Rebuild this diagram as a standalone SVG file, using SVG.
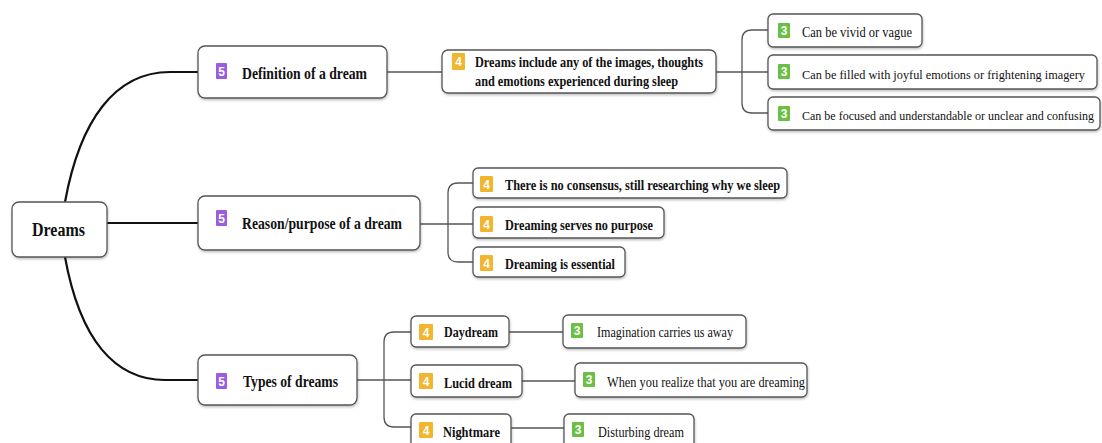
<svg xmlns="http://www.w3.org/2000/svg" width="1102" height="443" viewBox="0 0 1102 443">
<defs>
<filter id="sh" x="-5%" y="-10%" width="110%" height="130%">
<feDropShadow dx="0.5" dy="1.5" stdDeviation="1" flood-color="#000" flood-opacity="0.25"/>
</filter>
<style>
.box{fill:#fff;stroke:#555;stroke-width:1.3;filter:url(#sh)}
.main{fill:none;stroke:#111;stroke-width:2.2}
.con{fill:none;stroke:#555;stroke-width:1.3}
.b5{fill:#9a5ce0}
.b4{fill:#f1b52e}
.b3{fill:#6cbf45}
.bn{font-family:"Liberation Sans",Arial,sans-serif;font-weight:bold;font-size:12px;fill:#fff;text-anchor:middle}
.t{font-family:"Liberation Serif","Times New Roman",serif;fill:#111}
.tb{font-family:"Liberation Serif","Times New Roman",serif;font-weight:bold;fill:#111}
</style>
</defs>
<rect width="1102" height="443" fill="#fff"/>
<g id="connectors">
<path class="main" d="M65,202 C80,120 115,72 170,72 L198,72"/>
<path class="main" d="M107,223 L198,223"/>
<path class="main" d="M65,257 C80,340 115,380 165,380 L198,380"/>
<path class="con" d="M387,72 H442"/>
<path class="con" d="M716,72 H768"/>
<path class="con" d="M768,30 H752 Q742,30 742,40 V103 Q742,113 752,113 H768"/>
<path class="con" d="M420,224 H473"/>
<path class="con" d="M473,183 H458 Q448,183 448,193 V252 Q448,262 458,262 H473"/>
<path class="con" d="M357,380 H411"/>
<path class="con" d="M411,332 H394 Q384,332 384,342 V417 Q384,427 394,427 H411"/>
<path class="con" d="M509,332 H563"/>
<path class="con" d="M522,381 H575"/>
<path class="con" d="M511,428 H564"/>
</g>
<g id="n-dreams">
<rect class="box" x="12" y="202" width="95" height="55" rx="7"/>
<text class="tb" x="32" y="236" font-size="18" textLength="53" lengthAdjust="spacingAndGlyphs">Dreams</text>
</g>
<g id="n-definition">
<rect class="box" x="198" y="46" width="189" height="52" rx="7"/>
<rect class="b5" x="216" y="63" width="11" height="16" rx="1"/>
<text class="bn" x="221.5" y="75.5">5</text>
<text class="tb" x="242" y="79" font-size="16" textLength="125" lengthAdjust="spacingAndGlyphs">Definition of a dream</text>
</g>
<g id="n-reason">
<rect class="box" x="198" y="196" width="222" height="54" rx="7"/>
<rect class="b5" x="216" y="210" width="11" height="16" rx="1"/>
<text class="bn" x="221.5" y="222.5">5</text>
<text class="tb" x="242" y="229" font-size="16" textLength="160" lengthAdjust="spacingAndGlyphs">Reason/purpose of a dream</text>
</g>
<g id="n-types">
<rect class="box" x="198" y="355" width="159" height="50" rx="7"/>
<rect class="b5" x="216" y="373" width="11" height="16" rx="1"/>
<text class="bn" x="221.5" y="385.5">5</text>
<text class="tb" x="243" y="387" font-size="16" textLength="95" lengthAdjust="spacingAndGlyphs">Types of dreams</text>
</g>
<g id="n-include">
<rect class="box" x="442" y="50" width="274" height="43" rx="6"/>
<rect class="b4" x="452" y="53" width="13" height="17" rx="1"/>
<text class="bn" x="458.5" y="66">4</text>
<text class="tb" x="475" y="67" font-size="14" textLength="228" lengthAdjust="spacingAndGlyphs">Dreams include any of the images, thoughts</text>
<text class="tb" x="475" y="86" font-size="14" textLength="203" lengthAdjust="spacingAndGlyphs">and emotions experienced during sleep</text>
</g>
<g id="n-vivid">
<rect class="box" x="768" y="14" width="154" height="33" rx="5"/>
<rect class="b3" x="778" y="23" width="12" height="15" rx="1"/>
<text class="bn" x="784" y="35">3</text>
<text class="t" x="802" y="37" font-size="14" textLength="110" lengthAdjust="spacingAndGlyphs">Can be vivid or vague</text>
</g>
<g id="n-joyful">
<rect class="box" x="768" y="55" width="329" height="34" rx="5"/>
<rect class="b3" x="778" y="64" width="12" height="15" rx="1"/>
<text class="bn" x="784" y="76">3</text>
<text class="t" x="802" y="79" font-size="13" textLength="283" lengthAdjust="spacingAndGlyphs">Can be filled with joyful emotions or frightening imagery</text>
</g>
<g id="n-focused">
<rect class="box" x="768" y="97" width="332" height="33" rx="5"/>
<rect class="b3" x="778" y="106" width="12" height="15" rx="1"/>
<text class="bn" x="784" y="118">3</text>
<text class="t" x="802" y="120" font-size="12" textLength="292" lengthAdjust="spacingAndGlyphs">Can be focused and understandable or unclear and confusing</text>
</g>
<g id="n-consensus">
<rect class="box" x="473" y="168" width="314" height="30" rx="5"/>
<rect class="b4" x="480" y="176" width="13" height="16" rx="1"/>
<text class="bn" x="486.5" y="188.5">4</text>
<text class="tb" x="505" y="190" font-size="14" textLength="275" lengthAdjust="spacingAndGlyphs">There is no consensus, still researching why we sleep</text>
</g>
<g id="n-nopurpose">
<rect class="box" x="473" y="207" width="191" height="31" rx="5"/>
<rect class="b4" x="480" y="216" width="13" height="16" rx="1"/>
<text class="bn" x="486.5" y="228.5">4</text>
<text class="tb" x="505" y="230" font-size="14" textLength="148" lengthAdjust="spacingAndGlyphs">Dreaming serves no purpose</text>
</g>
<g id="n-essential">
<rect class="box" x="473" y="247" width="152" height="30" rx="5"/>
<rect class="b4" x="480" y="255" width="13" height="16" rx="1"/>
<text class="bn" x="486.5" y="267.5">4</text>
<text class="tb" x="505" y="269" font-size="14" textLength="110" lengthAdjust="spacingAndGlyphs">Dreaming is essential</text>
</g>
<g id="n-daydream">
<rect class="box" x="411" y="316" width="98" height="31" rx="5"/>
<rect class="b4" x="419" y="324" width="14" height="16" rx="1"/>
<text class="bn" x="426" y="336.5">4</text>
<text class="tb" x="444" y="337" font-size="14" textLength="54" lengthAdjust="spacingAndGlyphs">Daydream</text>
</g>
<g id="n-lucid">
<rect class="box" x="411" y="365" width="111" height="32" rx="5"/>
<rect class="b4" x="419" y="373" width="14" height="16" rx="1"/>
<text class="bn" x="426" y="385.5">4</text>
<text class="tb" x="444" y="388" font-size="14" textLength="68" lengthAdjust="spacingAndGlyphs">Lucid dream</text>
</g>
<g id="n-nightmare">
<rect class="box" x="411" y="414" width="100" height="34" rx="5"/>
<rect class="b4" x="419" y="422" width="14" height="16" rx="1"/>
<text class="bn" x="426" y="434.5">4</text>
<text class="tb" x="443" y="437" font-size="14" textLength="57" lengthAdjust="spacingAndGlyphs">Nightmare</text>
</g>
<g id="n-imagination">
<rect class="box" x="563" y="315" width="183" height="33" rx="5"/>
<rect class="b3" x="571" y="323" width="12" height="15" rx="1"/>
<text class="bn" x="577" y="335">3</text>
<text class="t" x="597" y="337" font-size="14" textLength="136" lengthAdjust="spacingAndGlyphs">Imagination carries us away</text>
</g>
<g id="n-realize">
<rect class="box" x="575" y="363" width="232" height="34" rx="5"/>
<rect class="b3" x="583" y="372" width="12" height="15" rx="1"/>
<text class="bn" x="589" y="384">3</text>
<text class="t" x="607" y="387" font-size="14" textLength="198" lengthAdjust="spacingAndGlyphs">When you realize that you are dreaming</text>
</g>
<g id="n-disturbing">
<rect class="box" x="564" y="414" width="130" height="34" rx="5"/>
<rect class="b3" x="572" y="422" width="12" height="15" rx="1"/>
<text class="bn" x="578" y="434">3</text>
<text class="t" x="598" y="437" font-size="14" textLength="86" lengthAdjust="spacingAndGlyphs">Disturbing dream</text>
</g>
</svg>
